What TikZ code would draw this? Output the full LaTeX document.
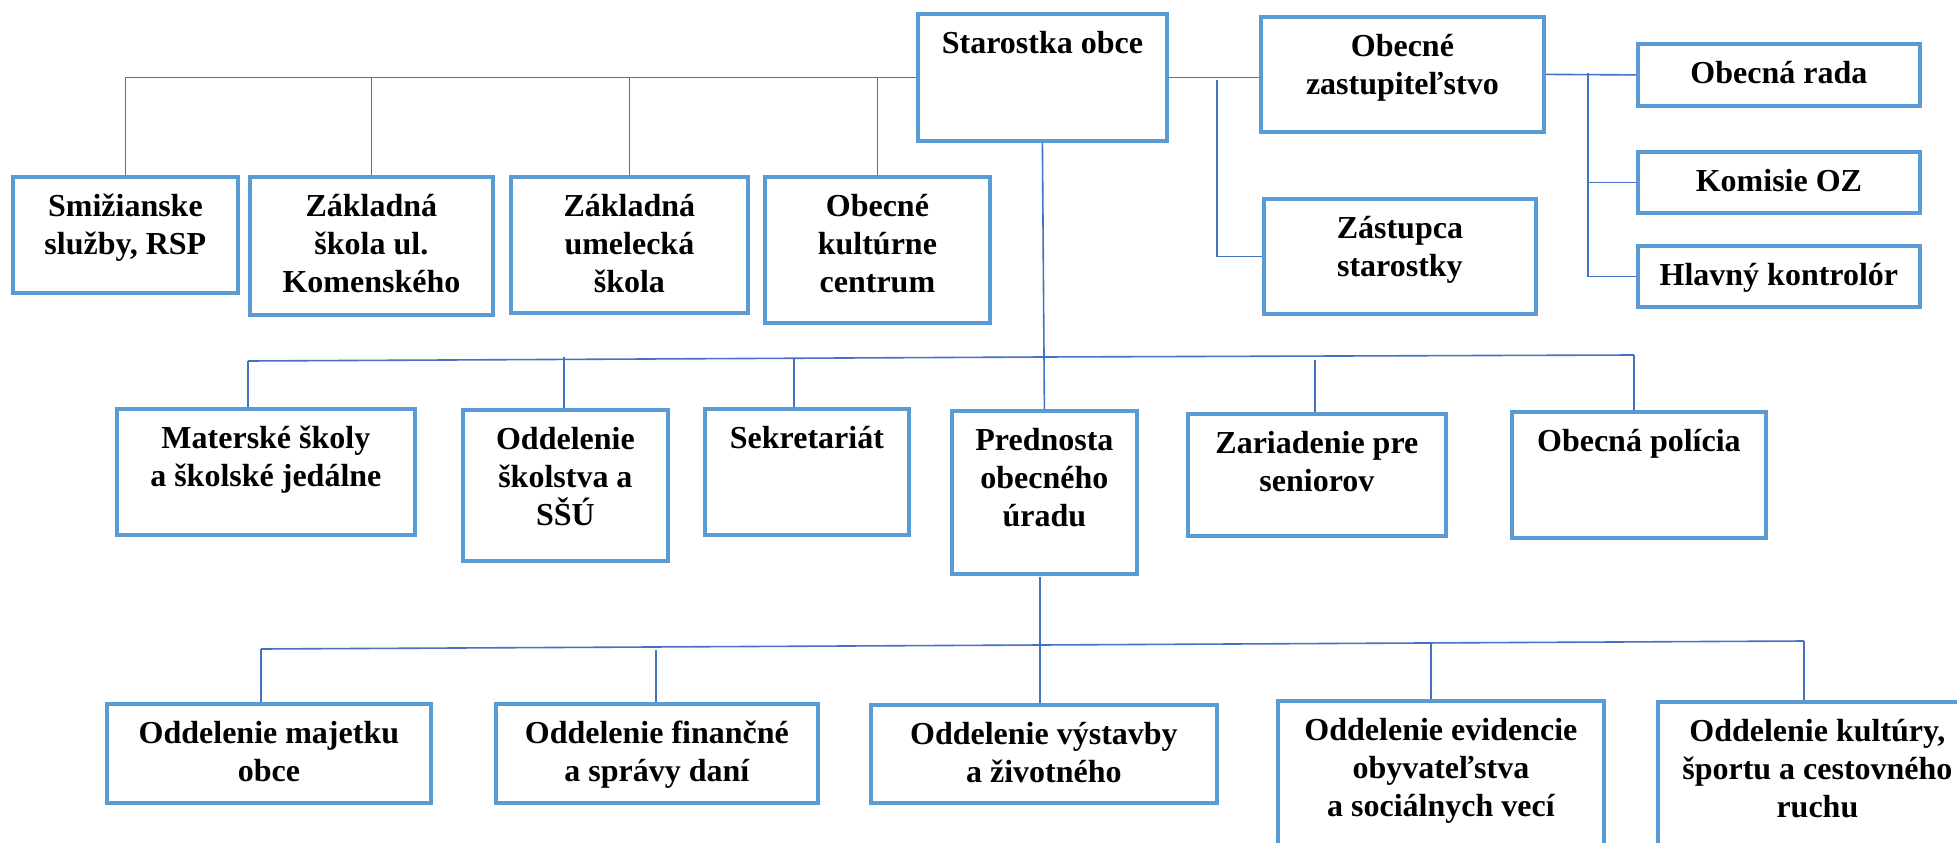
\documentclass[tikz,border=0pt]{standalone}
\usepackage{fontspec}
\setmainfont{Liberation Serif}
\newfontfamily\orgfont{Liberation Serif}
\definecolor{boxc}{RGB}{91,155,213}
\definecolor{linec}{RGB}{68,114,196}
\newcommand{\bxt}[3]{\parbox[t][#2pt][t]{#1pt}{\centering\rule{0pt}{40pt}#3}}
\tikzset{
  orgbox/.style={draw=boxc, line width=3.8pt, inner sep=0pt, anchor=north west,
    font=\orgfont\bfseries\fontsize{32pt}{38pt}\selectfont},
  conn/.style={draw=linec, line width=1.6pt},
}
\begin{document}
\begin{tikzpicture}[x=1pt,y=-1pt]
\useasboundingbox (0,0) rectangle (1957,843);
\fill[white] (0,0) rectangle (1957,843);
\clip (0,0) rectangle (1957,843);
% boxes
\node[orgbox] (star) at (916,12)   {\bxt{249}{127}{Starostka obce}};
\node[orgbox] (oz)   at (1259,15)  {\bxt{283}{115}{Obecné\\zastupiteľstvo}};
\node[orgbox] (rada) at (1636,42)  {\bxt{282}{62}{Obecná rada}};
\node[orgbox] (kom)  at (1636,150) {\bxt{282}{61}{Komisie OZ}};
\node[orgbox] (hk)   at (1636,244) {\bxt{282}{61}{Hlavný kontrolór}};
\node[orgbox] (zast) at (1262,197) {\bxt{272}{115}{Zástupca\\starostky}};
\node[orgbox] (smiz) at (11,175)   {\bxt{225}{116}{Smižianske\\služby, RSP}};
\node[orgbox] (zs)   at (248,175)  {\bxt{243}{138}{Základná\\škola ul.\\Komenského}};
\node[orgbox] (zus)  at (509,175)  {\bxt{237}{136}{Základná\\umelecká\\škola}};
\node[orgbox] (okc)  at (763,175)  {\bxt{225}{146}{Obecné\\kultúrne\\centrum}};
\node[orgbox] (ms)   at (115,407)  {\bxt{298}{126}{Materské školy\\a školské jedálne}};
\node[orgbox] (os)   at (461,408)  {\bxt{205}{151}{Oddelenie\\školstva a\\SŠÚ}};
\node[orgbox] (sek)  at (703,407)  {\bxt{204}{126}{Sekretariát}};
\node[orgbox] (pred) at (950,409)  {\bxt{185}{163}{Prednosta\\obecného\\úradu}};
\node[orgbox] (zar)  at (1186,412) {\bxt{258}{122}{Zariadenie pre\\seniorov}};
\node[orgbox] (pol)  at (1510,410) {\bxt{254}{126}{Obecná polícia}};
\node[orgbox] (maj)  at (105,702)  {\bxt{324}{99}{Oddelenie majetku\\obce}};
\node[orgbox] (fin)  at (494,702)  {\bxt{322}{99}{Oddelenie finančné\\a správy daní}};
\node[orgbox] (vys)  at (869,703)  {\bxt{346}{98}{Oddelenie výstavby\\a životného}};
\node[orgbox] (evi)  at (1276,699) {\bxt{326}{150}{Oddelenie evidencie\\obyvateľstva\\a sociálnych vecí}};
\node[orgbox] (kul)  at (1656,700) {\bxt{319}{150}{Oddelenie kultúry,\\športu a cestovného\\ruchu}};
% top connectors
\draw[conn] (star.west) -| (smiz.north);
\draw[conn] (star.west) -| (zs.north);
\draw[conn] (star.west) -| (zus.north);
\draw[conn] (star.west) -| (okc.north);
\draw[conn] (star.east) -- (star.east -| oz.west);
\coordinate (zt) at (1217,80);
\draw[conn] (zt) |- (zast.west);
\draw[conn] (oz.east) -- (rada.west);
\coordinate (ozb) at (1588,73);
\draw[conn] (ozb) |- (kom.west);
\draw[conn] (ozb) |- (hk.west);
% middle level
\draw[conn] (star.south) -- (pred.north);
\coordinate (mbl) at (248,361);
\coordinate (mbc) at (1042,357);
\coordinate (mbr) at (1634,355);
\draw[conn] (mbl) -- (mbc) -- (mbr);
\coordinate (d2) at (564,357);
\coordinate (d3) at (794,359);
\coordinate (d4) at (1315,360);
\draw[conn] (mbl) -- (mbl |- ms.north);
\draw[conn] (d2) -- (d2 |- os.north);
\draw[conn] (d3) -- (d3 |- sek.north);
\draw[conn] (d4) -- (d4 |- zar.north);
\draw[conn] (mbr) -- (mbr |- pol.north);
% bottom level
\coordinate (pt) at (1040,577);
\draw[conn] (pt) -- (pt |- vys.north);
\coordinate (bbl) at (261,649);
\coordinate (bbc) at (1040,645);
\coordinate (bbr) at (1804,641);
\draw[conn] (bbl) -- (bbc) -- (bbr);
\coordinate (e2) at (656,650);
\coordinate (e3) at (1431,644);
\draw[conn] (bbl) -- (bbl |- maj.north);
\draw[conn] (e2) -- (e2 |- fin.north);
\draw[conn] (e3) -- (e3 |- evi.north);
\draw[conn] (bbr) -- (bbr |- kul.north);
\end{tikzpicture}
\end{document}
